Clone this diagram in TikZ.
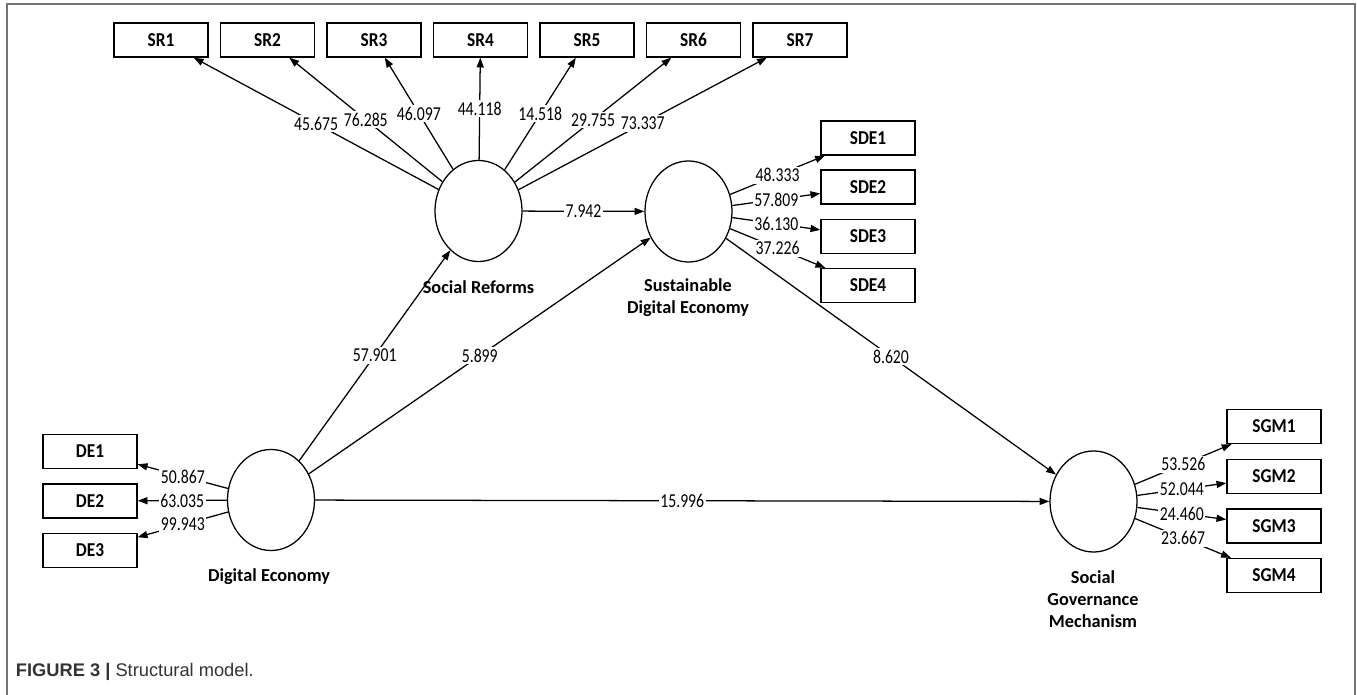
\documentclass[tikz,border=0pt]{standalone}
\usepackage{fontspec}
\setmainfont{Carlito}
\newfontfamily\numfont[FakeStretch=0.8]{Carlito}
\newfontfamily\boxfont[FakeStretch=0.88]{Carlito}
\newfontfamily\capfont{Liberation Sans}
\usetikzlibrary{arrows.meta,shapes.geometric}

\begin{document}
\begin{tikzpicture}[x=0.025cm,y=-0.025cm,
  lv/.style={draw,ellipse,line width=.9pt,minimum width=2.175cm,minimum height=2.525cm,inner sep=0pt},
  mv/.style={draw,line width=.9pt,minimum width=2.35cm,minimum height=.85cm,inner sep=0pt,font=\boxfont\bfseries\fontsize{14}{15}\selectfont},
  lvname/.style={font=\bfseries\fontsize{13}{15.5}\selectfont,align=center},
  val/.style={fill=white,inner sep=1.2pt,font=\numfont\fontsize{14}{15}\selectfont},
  pth/.style={line width=.9pt,-{Triangle[length=7pt,width=5pt]}}]
\useasboundingbox(0,0)rectangle(1357,695);
\draw[line width=1.2pt,black!55](7,695)--(7,4)--(1355,4)--(1355,695);
% latent variables
\node[lv](SR)at(478.5,211){};\node[lvname](SRn)at(478.5,287){Social Reforms};
\node[lv](SDE)at(688.5,211.5){};\node[lvname](SDEn)at(688,298){Sustainable\\Digital Economy};
\node[lv](DE)at(271,500){};\node[lvname](DEn)at(269,577){Digital Economy};
\node[lv](SGM)at(1093.5,501.5){};\node[lvname](SGMn)at(1093,599){Social\\Governance\\Mechanism};
% indicators
\foreach \i in {1,...,7}\node[mv](SR\i)at({54.5+106.5*\i},40){SR\i};
\foreach \i/\y in {1/138,2/187,3/236.5,4/285.5}\node[mv](SDE\i)at(868,\y){SDE\i};
\foreach \i/\y in {1/451.5,2/501,3/550.5}\node[mv](DE\i)at(90,\y){DE\i};
\foreach \i/\y in {1/426.5,2/476.5,3/526,4/575.5}\node[mv](SGM\i)at(1274,\y){SGM\i};
% outer loadings
\foreach \i/\v in {1/45.675,2/76.285,3/46.097,4/44.118,5/14.518,6/29.755,7/73.337}
  \draw[pth](SR)--node[val]{\v}(SR\i);
\foreach \i/\v in {1/48.333,2/57.809,3/36.130,4/37.226}
  \draw[pth](SDE)--node[val]{\v}(SDE\i);
\foreach \i/\v in {1/50.867,2/63.035,3/99.943}
  \draw[pth](DE)--node[val]{\v}(DE\i);
\foreach \i/\v in {1/53.526,2/52.044,3/24.460,4/23.667}
  \draw[pth](SGM)--node[val]{\v}(SGM\i);
% inner model
\draw[pth](SR)--node[val]{7.942}(SDE);
\draw[pth](DE)--node[val]{57.901}(SR);
\draw[pth](DE)--node[val]{5.899}(SDE);
\draw[pth](SDE)--node[val]{8.620}(SGM);
\draw[pth](DE)--node[val]{15.996}(SGM);
\node[anchor=west,font=\capfont\fontsize{13}{15}\selectfont,text=black!80](cap)at(11,672){\textbf{FIGURE 3 |} Structural model.};
\end{tikzpicture}
\end{document}
